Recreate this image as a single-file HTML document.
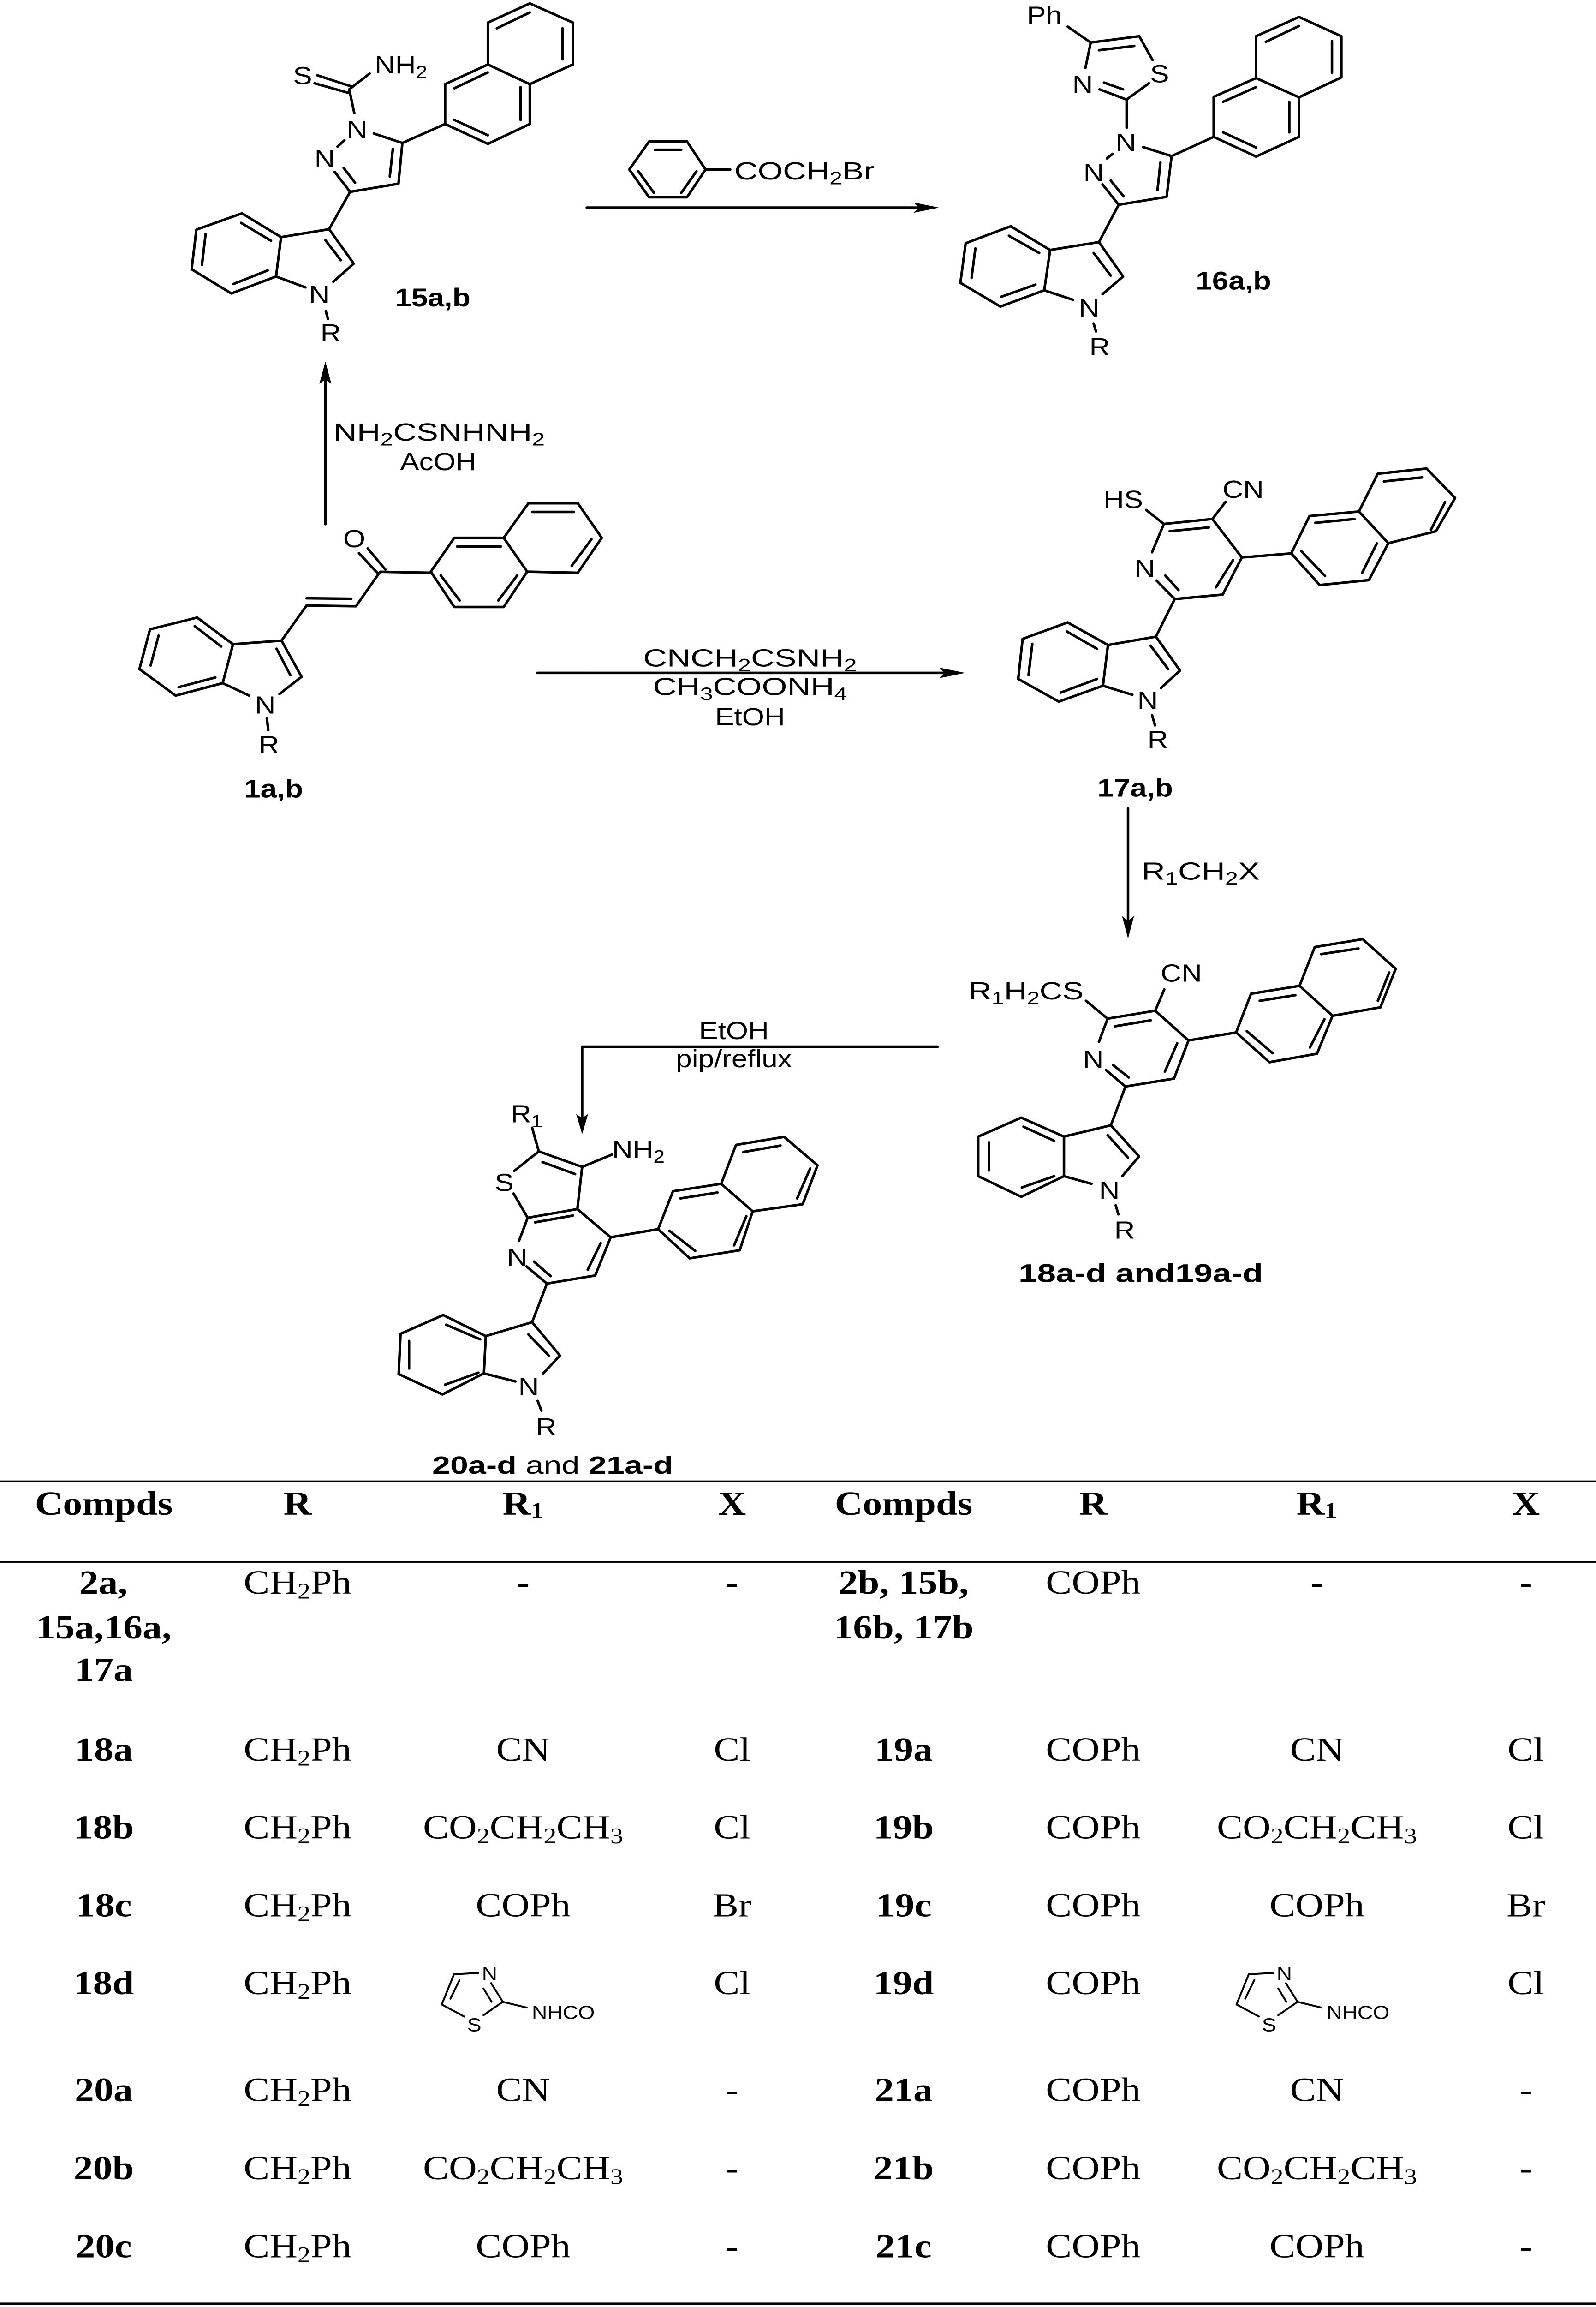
<!DOCTYPE html>
<html><head><meta charset="utf-8">
<style>
html,body{margin:0;padding:0;background:#fff;width:100%;height:100%;overflow:hidden;}
svg{display:block;position:absolute;left:0;top:0;width:100vw;height:100vh;}
path{fill:none;stroke:#000;stroke-width:5.5;vector-effect:non-scaling-stroke;stroke-linecap:round;stroke-linejoin:round;}
.ic path{stroke-width:4;}
text{font-family:"Liberation Sans",Arial,sans-serif;fill:#000;}
.a{font-size:62px;text-anchor:middle;}
.lb{font-size:64px;font-weight:bold;}
.rg{font-size:62px;}
.t{font-family:"Liberation Serif","Times New Roman",serif;font-size:84px;text-anchor:middle;}
.tb{font-family:"Liberation Serif","Times New Roman",serif;font-size:84px;font-weight:bold;text-anchor:middle;}
</style></head>
<body>
<svg xmlns="http://www.w3.org/2000/svg" viewBox="0 0 3460 5722" preserveAspectRatio="none">
<rect x="0" y="0" width="3460" height="5722" fill="#fff"/>

<!-- ============ 15a,b ============ -->
<g transform="translate(350 0) scale(0.6059 0.5612)">
<path d="M558 333 L680 382 M548 368 L668 410 M672 395 L745 325 M672 395 L690 500 M655 620 L630 648
M620 760 L675 848 M652 742 L693 808 M675 848 L848 812 M848 812 L862 632 M817 780 L828 658 M862 632 L760 590 M862 632 L1015 548
M1015 548 L1015 372 L1168 285 L1318 372 L1318 548 L1168 636 Z M1168 285 L1168 100 L1318 15 L1472 100 L1472 285 L1318 372
M1048 390 L1168 320 M1048 530 L1168 598 M1285 385 L1285 530 M1200 125 L1318 55 M1435 125 L1435 262
M675 848 L600 1013 M600 1013 L688 1165 L615 1245 M515 1270 L410 1222 L428 1048 L600 1013 M587 1062 L642 1150
M428 1048 L288 943 L125 1015 L108 1190 L250 1297 L410 1222 M285 985 L392 1064 M158 1035 L145 1170 M258 1255 L380 1195
M588 1375 L596 1410"/>
</g>
<text class="a" x="656" y="209">S</text>
<text class="rg" x="812" y="182">NH<tspan font-size="44" dy="12">2</tspan></text>
<text class="a" x="774" y="342">N</text>
<text class="a" x="704" y="415">N</text>
<text class="a" x="692" y="752">N</text>
<text class="a" x="717" y="847">R</text>
<text class="lb" x="938" y="760" text-anchor="middle">15a,b</text>

<!-- ============ 16a,b ============ -->
<g transform="translate(1950 0) scale(0.6378 0.5612)">
<path d="M572 118 L650 188 M632 300 L650 188 L815 160 L860 265 M848 368 L772 440 L680 395 M678 222 L798 203 M695 365 L760 395
M772 440 L772 565 M725 680 L705 700 M690 815 L745 905 M718 798 L762 868 M745 905 L908 870 M908 870 L925 690 M877 840 L887 718 M925 690 L828 650 M925 690 L1068 605
M1068 605 L1068 428 L1212 345 L1358 430 L1358 605 L1212 692 Z M1212 345 L1212 160 L1358 75 L1502 160 L1502 342 L1358 430
M1100 450 L1212 385 M1100 585 L1212 652 M1325 450 L1325 585 M1245 185 L1358 115 M1470 182 L1470 322
M745 905 L678 1070 M678 1070 L760 1222 L690 1300 M590 1325 L492 1283 L512 1105 L678 1070 M660 1118 L718 1218
M512 1105 L378 1000 L225 1075 L207 1250 L343 1355 L492 1283 M372 1042 L475 1118 M258 1098 L245 1228 M345 1312 L462 1258
M660 1430 L668 1465"/>
</g>
<text class="a" x="2264" y="59">Ph</text>
<text class="a" x="2514" y="204">S</text>
<text class="a" x="2347" y="230">N</text>
<text class="a" x="2441" y="374">N</text>
<text class="a" x="2371" y="449">N</text>
<text class="a" x="2361" y="785">N</text>
<text class="a" x="2384" y="881">R</text>
<text class="lb" x="2674" y="718" text-anchor="middle">16a,b</text>

<!-- arrow 15 -> 16 -->
<path d="M1272 515 L1995 515"/>
<polygon points="2036,515 1980,502 1992,515 1980,528" fill="#000"/>
<!-- reagent benzene + COCH2Br (zoom7 coords) -->
<g transform="translate(650 300) scale(0.8929)">
<path d="M800 135 L848 57 L940 57 L985 135 L940 212 L848 212 Z M862 80 L926 80 M822 140 L860 200 M963 140 L926 200 M985 135 L1045 135"/>
<!-- 1a,b naphthalene -->
<path d="M318 1252 L375 1158 L495 1158 L552 1252 L495 1350 L375 1350 Z M495 1158 L555 1062 L675 1062 L733 1158 L675 1255 L552 1252
M382 1182 L488 1182 M342 1262 L388 1332 M528 1262 L482 1332 M565 1086 L665 1086 M708 1162 L660 1236"/>
</g>
<text class="rg" x="1592" y="445" textLength="304" lengthAdjust="spacingAndGlyphs">COCH<tspan font-size="44" dy="12">2</tspan><tspan dy="-12">Br</tspan></text>

<!-- arrow 1 -> 15 (up) -->
<path d="M705.4 1300 L705.4 935"/>
<polygon points="705.4,896.5 692.4,952 705.4,941 718.4,952" fill="#000"/>
<text class="rg" x="952" y="1093" text-anchor="middle" textLength="458" lengthAdjust="spacingAndGlyphs">NH<tspan font-size="44" dy="12">2</tspan><tspan dy="-12">CSNHNH</tspan><tspan font-size="44" dy="12">2</tspan></text>
<text class="rg" x="950" y="1166" text-anchor="middle">AcOH</text>

<!-- ============ 1a,b ============ -->
<g transform="translate(250 1150) scale(0.6378 0.5612)">
<path d="M828 395 L890 482 M858 375 L918 468 M900 478 L1068 482 M900 478 L818 630 M818 630 L650 627 M650 595 L802 597 M650 627 L565 782
M565 782 L633 942 L558 1018 M455 1025 L365 970 L400 798 L565 782 M548 818 L595 935
M400 798 L278 680 L118 732 L82 908 L205 1025 L365 970 M270 718 L360 808 M147 760 L120 892 M215 988 L340 945
M515 1125 L520 1178"/>
</g>
<text class="a" x="768" y="1357">O</text>
<text class="a" x="575" y="1770">N</text>
<text class="a" x="583" y="1868">R</text>
<text class="lb" x="593" y="1978" text-anchor="middle">1a,b</text>

<!-- arrow 1 -> 17 -->
<path d="M1164.5 1669 L2050 1669"/>
<polygon points="2092.6,1669 2036.5,1656 2048,1669 2036.5,1682" fill="#000"/>
<text class="rg" x="1626" y="1653" text-anchor="middle" textLength="463" lengthAdjust="spacingAndGlyphs">CNCH<tspan font-size="44" dy="12">2</tspan><tspan dy="-12">CSNH</tspan><tspan font-size="44" dy="12">2</tspan></text>
<text class="rg" x="1626" y="1724" text-anchor="middle" textLength="421" lengthAdjust="spacingAndGlyphs">CH<tspan font-size="44" dy="12">3</tspan><tspan dy="-12">COONH</tspan><tspan font-size="44" dy="12">4</tspan></text>
<text class="rg" x="1626" y="1799" text-anchor="middle">EtOH</text>

<!-- ============ 17a,b ============ -->
<g transform="translate(2150 1120) scale(0.6378 0.5612)">
<path d="M525 258 L585 320 M545 445 L585 320 L750 298 L850 468 L785 632 L622 652 L560 570 M605 352 L738 335 M590 548 L635 612 M762 600 L820 480
M750 298 L795 222 M850 468 L1018 450
M1018 450 L1080 285 L1248 265 L1348 405 L1282 568 L1115 590 Z M1248 265 L1312 98 L1478 75 L1575 205 L1510 352 L1348 405
M1100 315 L1233 298 M1052 440 L1133 550 M1309 406 L1259 536 M1333 132 L1464 114 M1541 223 L1493 345
M622 652 L558 818 M558 818 L640 968 L575 1045 M478 1075 L378 1035 L395 855 L558 818 M540 858 L600 962
M395 855 L258 755 L105 828 L90 1005 L228 1105 L378 1035 M255 795 L358 872 M138 850 L125 988 M235 1065 L358 1005
M545 1165 L555 1210"/>
</g>
<text class="a" x="2435" y="1260">HS</text>
<text class="a" x="2695" y="1235">CN</text>
<text class="a" x="2482" y="1431">N</text>
<text class="a" x="2488" y="1759">N</text>
<text class="a" x="2510" y="1855">R</text>
<text class="lb" x="2461" y="1976" text-anchor="middle">17a,b</text>

<!-- arrow 17 -> 18 -->
<path d="M2445.5 2005 L2445.5 2290"/>
<polygon points="2445.5,2328 2432.5,2272 2445.5,2284 2458.5,2272" fill="#000"/>
<text class="rg" x="2475" y="2182" textLength="256" lengthAdjust="spacingAndGlyphs">R<tspan font-size="44" dy="12">1</tspan><tspan dy="-12">CH</tspan><tspan font-size="44" dy="12">2</tspan><tspan dy="-12">X</tspan></text>

<!-- ============ 18/19 ============ -->
<g transform="translate(2040 2100) scale(0.7015)">
<path d="M448 545 L515 608 M488 690 L515 608 L662 580 L765 685 L720 820 L570 848 L510 790 M538 635 L648 614 M532 772 L580 816 M692 795 L730 695
M662 580 L690 505 M765 685 L912 657
M912 657 L958 520 L1108 492 L1210 598 L1162 732 L1015 762 Z M1108 492 L1155 355 L1303 327 L1405 432 L1358 568 L1210 598
M985 545 L1095 525 M945 652 L1025 730 M1185 610 L1140 710 M1175 380 L1290 360 M1385 445 L1350 545
M570 848 L525 985 M525 985 L612 1095 L560 1165 M465 1192 L380 1165 L380 1025 L525 985 M515 1020 L578 1100
M380 1025 L248 958 L115 1025 L115 1165 L248 1238 L380 1165 M255 990 L350 1040 M148 1045 L148 1145 M250 1205 L350 1165
M540 1268 L548 1300"/>
</g>
<text class="rg" x="2100" y="2479" textLength="249" lengthAdjust="spacingAndGlyphs">R<tspan font-size="44" dy="12">1</tspan><tspan dy="-12">H</tspan><tspan font-size="44" dy="12">2</tspan><tspan dy="-12">CS</tspan></text>
<text class="a" x="2561" y="2435">CN</text>
<text class="a" x="2370" y="2648">N</text>
<text class="a" x="2405" y="2974">N</text>
<text class="a" x="2438" y="3072">R</text>
<text class="lb" x="2208" y="3180" textLength="530" lengthAdjust="spacingAndGlyphs">18a-d and19a-d</text>

<!-- arrow 18 -> 20 -->
<path d="M2033 2596 L1262 2596 L1262 2775"/>
<polygon points="1262,2813 1249,2763 1262,2773 1275,2763" fill="#000"/>
<text class="rg" x="1591" y="2577" text-anchor="middle">EtOH</text>
<text class="rg" x="1591" y="2647" text-anchor="middle">pip/reflux</text>

<!-- ============ 20/21 ============ -->
<g transform="translate(800 2450) scale(0.8036)">
<path d="M440 432 L458 505 M392 565 L458 505 L575 553 L562 683 M390 635 L428 710 M468 538 L556 575 M575 553 L655 515
M428 710 L562 683 L652 770 L610 888 L480 913 L425 860 M405 780 L428 710 M448 724 L550 703 M625 788 L590 870 M445 845 L490 890
M652 770 L780 745
M780 745 L820 628 L950 605 L1035 690 L1000 810 L865 835 Z M950 605 L990 485 L1120 460 L1210 548 L1170 668 L1035 690
M840 650 L940 632 M810 750 L880 812 M1018 705 L985 795 M1010 507 L1110 487 M1190 558 L1155 650
M480 913 L440 1032 M440 1032 L515 1135 L470 1190 M395 1215 L310 1190 L315 1075 L440 1032 M430 1070 L485 1135
M315 1075 L200 1010 L85 1068 L80 1192 L198 1255 L310 1190 M208 1040 L300 1085 M108 1090 L108 1175 M205 1225 L295 1188
M455 1275 L465 1305"/>
</g>
<text class="rg" x="1107" y="2784">R<tspan font-size="44" dy="12">1</tspan></text>
<text class="a" x="1093" y="2954">S</text>
<text class="rg" x="1327" y="2872">NH<tspan font-size="44" dy="12">2</tspan></text>
<text class="a" x="1121" y="3139">N</text>
<text class="a" x="1146" y="3460">N</text>
<text class="a" x="1184" y="3560">R</text>
<text class="rg" x="937" y="3655" font-size="64" textLength="522" lengthAdjust="spacingAndGlyphs"><tspan font-weight="bold">20a-d</tspan> and <tspan font-weight="bold">21a-d</tspan></text>

<!-- ============ TABLE ============ -->
<rect x="0" y="3672" width="3460" height="4" fill="#000"/>
<rect x="0" y="3872" width="3460" height="4" fill="#000"/>
<rect x="0" y="5711" width="3460" height="6" fill="#000"/>

<!-- header -->
<text class="tb" x="225" y="3757">Compds</text>
<text class="tb" x="645" y="3757">R</text>
<text class="tb" x="1134" y="3757">R<tspan font-size="56" dy="8">1</tspan></text>
<text class="tb" x="1587" y="3757">X</text>
<text class="tb" x="1959" y="3757">Compds</text>
<text class="tb" x="2370" y="3757">R</text>
<text class="tb" x="2855" y="3757">R<tspan font-size="56" dy="8">1</tspan></text>
<text class="tb" x="3308" y="3757">X</text>

<!-- row 1 -->
<text class="tb" x="224" y="3953">2a,</text>
<text class="tb" x="225" y="4064">15a,16a,</text>
<text class="tb" x="225" y="4169">17a</text>
<text class="t" x="645" y="3953">CH<tspan font-size="56" dy="12">2</tspan><tspan dy="-12">Ph</tspan></text>
<text class="t" x="1134" y="3953">-</text>
<text class="t" x="1587" y="3953">-</text>
<text class="tb" x="1959" y="3953">2b, 15b,</text>
<text class="tb" x="1959" y="4064">16b, 17b</text>
<text class="t" x="2370" y="3953">COPh</text>
<text class="t" x="2855" y="3953">-</text>
<text class="t" x="3308" y="3953">-</text>

<!-- 18a / 19a -->
<text class="tb" x="225" y="4367">18a</text>
<text class="t" x="645" y="4367">CH<tspan font-size="56" dy="12">2</tspan><tspan dy="-12">Ph</tspan></text>
<text class="t" x="1134" y="4367">CN</text>
<text class="t" x="1587" y="4367">Cl</text>
<text class="tb" x="1959" y="4367">19a</text>
<text class="t" x="2370" y="4367">COPh</text>
<text class="t" x="2855" y="4367">CN</text>
<text class="t" x="3308" y="4367">Cl</text>

<!-- 18b / 19b -->
<text class="tb" x="225" y="4560">18b</text>
<text class="t" x="645" y="4560">CH<tspan font-size="56" dy="12">2</tspan><tspan dy="-12">Ph</tspan></text>
<text class="t" x="1134" y="4560">CO<tspan font-size="56" dy="12">2</tspan><tspan dy="-12">CH</tspan><tspan font-size="56" dy="12">2</tspan><tspan dy="-12">CH</tspan><tspan font-size="56" dy="12">3</tspan></text>
<text class="t" x="1587" y="4560">Cl</text>
<text class="tb" x="1959" y="4560">19b</text>
<text class="t" x="2370" y="4560">COPh</text>
<text class="t" x="2855" y="4560">CO<tspan font-size="56" dy="12">2</tspan><tspan dy="-12">CH</tspan><tspan font-size="56" dy="12">2</tspan><tspan dy="-12">CH</tspan><tspan font-size="56" dy="12">3</tspan></text>
<text class="t" x="3308" y="4560">Cl</text>

<!-- 18c / 19c -->
<text class="tb" x="225" y="4753">18c</text>
<text class="t" x="645" y="4753">CH<tspan font-size="56" dy="12">2</tspan><tspan dy="-12">Ph</tspan></text>
<text class="t" x="1134" y="4753">COPh</text>
<text class="t" x="1587" y="4753">Br</text>
<text class="tb" x="1959" y="4753">19c</text>
<text class="t" x="2370" y="4753">COPh</text>
<text class="t" x="2855" y="4753">COPh</text>
<text class="t" x="3308" y="4753">Br</text>

<!-- 18d / 19d -->
<text class="tb" x="225" y="4946">18d</text>
<text class="t" x="645" y="4946">CH<tspan font-size="56" dy="12">2</tspan><tspan dy="-12">Ph</tspan></text>
<g class="ic" transform="translate(0 3650) scale(1.1033)">
<path d="M892 1130 L940 1127 M965 1150 L988 1192 L950 1222 M912 1225 L868 1198 L892 1130 M950 1162 L966 1192 M885 1185 L903 1143 M988 1192 L1035 1205"/>
<text x="962" y="1143" font-size="42" text-anchor="middle">N</text>
<text x="932" y="1258" font-size="42" text-anchor="middle">S</text>
<text x="1045" y="1230" font-size="42">NHCO</text>
</g>
<text class="t" x="1587" y="4946">Cl</text>
<text class="tb" x="1959" y="4946">19d</text>
<text class="t" x="2370" y="4946">COPh</text>
<g class="ic" transform="translate(1723 3650) scale(1.1033)">
<path d="M892 1130 L940 1127 M965 1150 L988 1192 L950 1222 M912 1225 L868 1198 L892 1130 M950 1162 L966 1192 M885 1185 L903 1143 M988 1192 L1035 1205"/>
<text x="962" y="1143" font-size="42" text-anchor="middle">N</text>
<text x="932" y="1258" font-size="42" text-anchor="middle">S</text>
<text x="1045" y="1230" font-size="42">NHCO</text>
</g>
<text class="t" x="3308" y="4946">Cl</text>

<!-- 20a / 21a -->
<text class="tb" x="225" y="5211">20a</text>
<text class="t" x="645" y="5211">CH<tspan font-size="56" dy="12">2</tspan><tspan dy="-12">Ph</tspan></text>
<text class="t" x="1134" y="5211">CN</text>
<text class="t" x="1587" y="5211">-</text>
<text class="tb" x="1959" y="5211">21a</text>
<text class="t" x="2370" y="5211">COPh</text>
<text class="t" x="2855" y="5211">CN</text>
<text class="t" x="3308" y="5211">-</text>

<!-- 20b / 21b -->
<text class="tb" x="225" y="5405">20b</text>
<text class="t" x="645" y="5405">CH<tspan font-size="56" dy="12">2</tspan><tspan dy="-12">Ph</tspan></text>
<text class="t" x="1134" y="5405">CO<tspan font-size="56" dy="12">2</tspan><tspan dy="-12">CH</tspan><tspan font-size="56" dy="12">2</tspan><tspan dy="-12">CH</tspan><tspan font-size="56" dy="12">3</tspan></text>
<text class="t" x="1587" y="5405">-</text>
<text class="tb" x="1959" y="5405">21b</text>
<text class="t" x="2370" y="5405">COPh</text>
<text class="t" x="2855" y="5405">CO<tspan font-size="56" dy="12">2</tspan><tspan dy="-12">CH</tspan><tspan font-size="56" dy="12">2</tspan><tspan dy="-12">CH</tspan><tspan font-size="56" dy="12">3</tspan></text>
<text class="t" x="3308" y="5405">-</text>

<!-- 20c / 21c -->
<text class="tb" x="225" y="5599">20c</text>
<text class="t" x="645" y="5599">CH<tspan font-size="56" dy="12">2</tspan><tspan dy="-12">Ph</tspan></text>
<text class="t" x="1134" y="5599">COPh</text>
<text class="t" x="1587" y="5599">-</text>
<text class="tb" x="1959" y="5599">21c</text>
<text class="t" x="2370" y="5599">COPh</text>
<text class="t" x="2855" y="5599">COPh</text>
<text class="t" x="3308" y="5599">-</text>
</svg>
</body></html>
